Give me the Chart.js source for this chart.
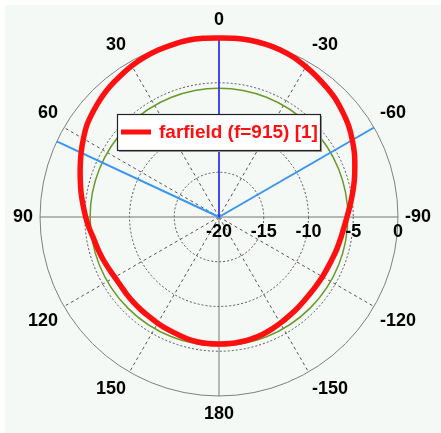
<!DOCTYPE html>
<html>
<head>
<meta charset="utf-8">
<script src="https://cdn.jsdelivr.net/npm/chart.js@4.4.0/dist/chart.umd.min.js"></script>
<style>
  html, body { margin: 0; padding: 0; background: #ffffff; }
</style>
</head>
<body>
<canvas id="polar" width="441" height="433"></canvas>
<script>
// theta (deg) in the order the radar walks: clockwise from the top
const thetaLabels = [];
for (let i = 0; i < 72; i++) {
  let a = -5 * i;
  if (a <= -180) a += 360;
  thetaLabels.push(a);
}

// farfield level in dB, same order as thetaLabels
// 0 .. -175 (right half)
const farfieldRight = [
  0.0, 0.05, 0.05, 0.0, -0.1, -0.3, -0.6, -0.9, -1.2, -1.5,
  -1.9, -2.3, -2.8, -3.3, -3.85, -4.35, -4.85, -5.3, -5.7, -6.0,
  -6.2, -6.35, -6.5, -6.6, -6.65, -6.7, -6.7, -6.65, -6.55, -6.45,
  -6.3, -6.15, -6.0, -5.9, -5.85, -5.8
];
// 180 .. 5 (left half)
const farfieldLeft = [
  -5.8, -5.8, -5.85, -5.95, -6.1, -6.2, -6.3, -6.4, -6.45, -6.5,
  -6.55, -6.6, -6.55, -6.4, -6.2, -6.0, -5.8, -5.45, -5.1, -4.75,
  -4.35, -3.95, -3.5, -3.0, -2.5, -2.0, -1.65, -1.3, -1.0, -0.75,
  -0.5, -0.3, -0.15, -0.05, 0.05, 0.05
];
const farfieldDb = farfieldRight.concat(farfieldLeft);

const ringValues = [-20, -15, -10, -5, 0];
const greenRingDb = -5.6;
const mainLobeTheta = 0;
const beamEdgeTheta = [65, -60];
const legendText = 'farfield (f=915) [1]';

const labelFont = 'bold 18px "Liberation Sans", Arial, sans-serif';

const backgroundPlugin = {
  id: 'paper',
  beforeDraw(chart) {
    const ctx = chart.ctx;
    ctx.save();
    ctx.fillStyle = '#ffffff';
    ctx.fillRect(0, 0, chart.width, chart.height);
    ctx.fillStyle = '#f4f9f6';
    ctx.fillRect(5, 5, chart.width - 5, chart.height - 5);
    ctx.restore();
  }
};

const markerPlugin = {
  id: 'markers',
  beforeDatasetsDraw(chart) {
    const ctx = chart.ctx;
    const s = chart.scales.r;
    ctx.save();
    // green reference ring
    ctx.strokeStyle = '#6a9a2a';
    ctx.lineWidth = 1.5;
    ctx.beginPath();
    ctx.arc(s.xCenter, s.yCenter, s.getDistanceFromCenterForValue(greenRingDb), 0, Math.PI * 2);
    ctx.stroke();
    // beam edge lines
    ctx.strokeStyle = '#3a96f0';
    ctx.lineWidth = 2;
    beamEdgeTheta.forEach(t => {
      const p = s.getPointPositionForValue(thetaLabels.indexOf(t), 0);
      ctx.beginPath();
      ctx.moveTo(s.xCenter, s.yCenter);
      ctx.lineTo(p.x, p.y);
      ctx.stroke();
    });
    // main lobe direction
    ctx.strokeStyle = '#2323ff';
    ctx.lineWidth = 1.5;
    const m = s.getPointPositionForValue(thetaLabels.indexOf(mainLobeTheta), 0);
    ctx.beginPath();
    ctx.moveTo(s.xCenter, s.yCenter);
    ctx.lineTo(m.x, m.y);
    ctx.stroke();
    ctx.restore();
  }
};

const overlayPlugin = {
  id: 'overlay',
  afterDraw(chart) {
    const ctx = chart.ctx;
    const s = chart.scales.r;
    ctx.save();
    // radial tick labels along the right axis
    ctx.font = labelFont;
    ctx.fillStyle = '#000000';
    ctx.textAlign = 'center';
    ctx.textBaseline = 'middle';
    ringValues.forEach(v => {
      ctx.fillText(String(v), s.xCenter + s.getDistanceFromCenterForValue(v), s.yCenter + 15);
    });
    // legend box
    const bx = s.xCenter - 102, by = s.yCenter - 103, bw = 203, bh = 36;
    ctx.fillStyle = '#9a9a9a';
    ctx.fillRect(bx + 2, by + 2, bw, bh);
    ctx.fillStyle = '#ffffff';
    ctx.fillRect(bx, by, bw, bh);
    ctx.strokeStyle = '#222222';
    ctx.lineWidth = 1.2;
    ctx.strokeRect(bx + 0.5, by + 0.5, bw, bh);
    ctx.strokeStyle = '#ff1010';
    ctx.lineWidth = 5;
    ctx.beginPath();
    ctx.moveTo(bx + 4, by + bh / 2);
    ctx.lineTo(bx + 34, by + bh / 2);
    ctx.stroke();
    ctx.font = 'bold 19px "Liberation Sans", Arial, sans-serif';
    ctx.fillStyle = '#ff1010';
    ctx.textAlign = 'left';
    ctx.fillText(chart.data.datasets[0].label, bx + 42, by + bh / 2 + 1);
    ctx.restore();
  }
};

new Chart(document.getElementById('polar'), {
  type: 'radar',
  data: {
    labels: thetaLabels,
    datasets: [{
      label: legendText,
      data: farfieldDb,
      borderColor: '#ff1010',
      borderWidth: 5.5,
      pointRadius: 0,
      fill: false,
      tension: 0.25
    }]
  },
  options: {
    responsive: false,
    animation: false,
    layout: { padding: { top: 6, bottom: 3, left: 10, right: 7 } },
    plugins: { legend: { display: false }, tooltip: { enabled: false } },
    scales: {
      r: {
        min: -20,
        max: 0,
        ticks: { display: false, stepSize: 5 },
        grid: {
          circular: true,
          color: c => c.tick.value === 0 ? '#808080' : '#555555',
          lineWidth: c => c.tick.value === -20 ? 0 : 1
        },
        border: { dash: c => c.tick.value === 0 ? [] : [2, 2] },
        angleLines: {
          color: c => thetaLabels[c.index] % 90 === 0 ? '#777777' : '#555555',
          lineWidth: c => thetaLabels[c.index] % 30 === 0 ? 1 : 0,
          borderDash: c => thetaLabels[c.index] % 90 === 0 ? [] : [3, 3]
        },
        pointLabels: {
          callback: v => v % 30 === 0 ? String(v) : '',
          color: '#000000',
          padding: 7,
          font: { family: '"Liberation Sans", Arial, sans-serif', size: 18, weight: 'bold' }
        }
      }
    }
  },
  plugins: [backgroundPlugin, markerPlugin, overlayPlugin]
});
</script>
</body>
</html>
